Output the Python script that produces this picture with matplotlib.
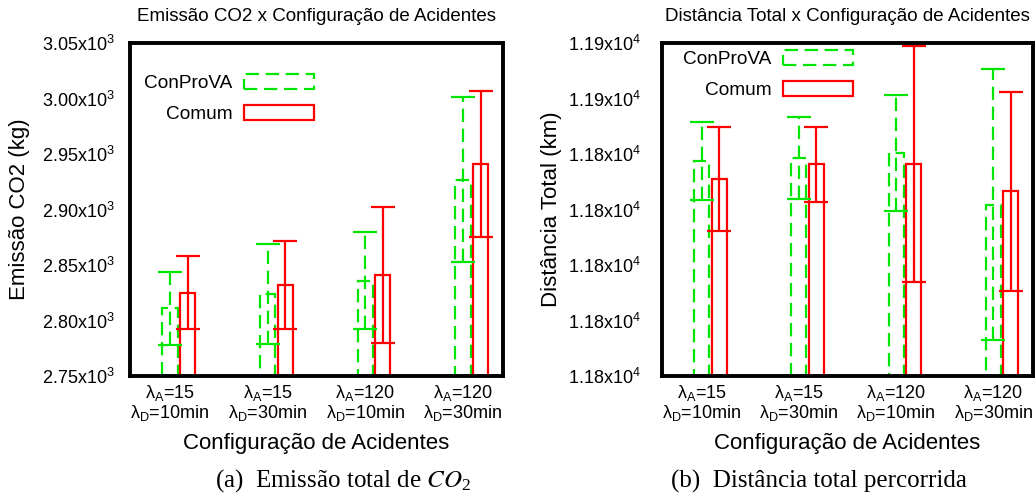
import numpy as np
import matplotlib
matplotlib.use("Agg")
import matplotlib.pyplot as plt
from matplotlib.patches import Patch

plt.rcParams["font.family"] = ["Liberation Sans", "DejaVu Sans"]
plt.rcParams["mathtext.default"] = "regular"

# data
configs = ["λ$_A$=15\nλ$_D$=10min", "λ$_A$=15\nλ$_D$=30min",
           "λ$_A$=120\nλ$_D$=10min", "λ$_A$=120\nλ$_D$=30min"]
series = ["ConProVA", "Comum"]

co2_conprova = [2811, 2824, 2836, 2927]
co2_conprova_err = [33, 45, 44, 74]
co2_comum = [2825, 2832, 2841, 2941]
co2_comum_err = [33, 40, 61, 66]

dist_conprova = [11837.5, 11838.5, 11840.4, 11821.8]
dist_conprova_err = [14, 14.7, 20.8, 48.8]
dist_comum = [11831, 11836.3, 11836.3, 11826.6]
dist_comum_err = [18.6, 13.5, 42.5, 35.9]

co2_ticks = [2750, 2800, 2850, 2900, 2950, 3000, 3050]
dist_ticks = [11760, 11780, 11800, 11820, 11840, 11860, 11880]

green = "#00e600"
red = "#ff0000"
W = 1036
H = 497

fig = plt.figure(figsize=(W / 100, H / 100), dpi=100)
ax1 = fig.add_axes([130 / W, 1 - 376 / H, 373 / W, 333 / H])
ax2 = fig.add_axes([662 / W, 1 - 376 / H, 371 / W, 333 / H])

x = np.arange(len(configs))
bw = 0.155
off = 0.18
dash = (0, (6, 3))


def draw_panel(ax, m1, e1, m2, e2, ticks, exp, title, ylabel, ypad):
    ax.bar(x, m1, bw, facecolor="none", edgecolor=green, linestyle=dash, lw=1.6)
    ax.bar(x + off, m2, bw, facecolor="none", edgecolor=red, lw=1.6)
    eb = ax.errorbar(x, m1, yerr=e1, fmt="none", ecolor=green, capsize=8.5,
                     elinewidth=1.6, capthick=1.6)
    eb[2][0].set_linestyle(dash)
    ax.errorbar(x + off, m2, yerr=e2, fmt="none", ecolor=red, capsize=8.5,
                elinewidth=1.6, capthick=1.6)
    ax.set_xlim(-0.41, 3.41)
    ax.set_ylim(ticks[0], ticks[-1])
    ax.set_yticks(ticks)
    ax.set_yticklabels([f"{t / 10**exp:.2f}x10$^{exp}$" for t in ticks])
    ax.set_xticks(x)
    ax.set_xticklabels(configs, fontsize=13, linespacing=1.0)
    ax.tick_params(axis="y", length=0, labelsize=13, pad=ypad)
    ax.tick_params(axis="x", length=0, pad=5)
    for s in ax.spines.values():
        s.set_linewidth(2.8)
    ax.set_title(title, fontsize=13.5, pad=16)
    ax.set_ylabel(ylabel, fontsize=16)
    ax.set_xlabel("Configuração de Acidentes", fontsize=16)
    ax.xaxis.set_label_coords(0.5, -0.17)


draw_panel(ax1, co2_conprova, co2_conprova_err, co2_comum, co2_comum_err,
           co2_ticks, 3, "Emissão CO2 x Configuração de Acidentes", "Emissão CO2 (kg)", 11)
ax1.yaxis.set_label_coords(-0.268, 0.5)

draw_panel(ax2, dist_conprova, dist_conprova_err, dist_comum, dist_comum_err,
           dist_ticks, 4, "Distância Total x Configuração de Acidentes", "Distância Total (km)", 15)
ax2.yaxis.set_label_coords(-0.27, 0.5)

handles = [Patch(facecolor="none", edgecolor=green, linestyle=dash, lw=1.6),
           Patch(facecolor="none", edgecolor=red, lw=1.6)]
for ax, px, py in [(ax1, 314, 74), (ax2, 853, 50)]:
    ax.legend(handles, series, loc="upper right", bbox_to_anchor=(px / W, 1 - py / H),
              bbox_transform=fig.transFigure, frameon=False, markerfirst=False,
              fontsize=13.7, handlelength=3.7, handleheight=0.8, labelspacing=0.7,
              handletextpad=0.6, borderpad=0, borderaxespad=0)

fig.text(343 / W, 1 - 481 / H, "(a)  Emissão total de $\\mathit{CO}_2$", ha="center", va="center",
         fontsize=18, family="Liberation Serif", math_fontfamily="stix")
fig.text(819 / W, 1 - 481 / H, "(b)  Distância total percorrida", ha="center", va="center",
         fontsize=18, family="Liberation Serif")

fig.savefig("out.png", dpi=100)
